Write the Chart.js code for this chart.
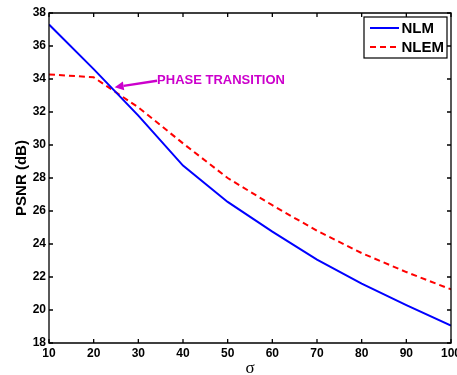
<!DOCTYPE html>
<html><head><meta charset="utf-8">
<script src="https://cdn.jsdelivr.net/npm/chart.js@4/dist/chart.umd.min.js"></script>
<style>html,body{margin:0;padding:0;background:#fff;}#wrap{width:457px;height:375px;}</style>
</head><body><div id="wrap"><canvas id="c" width="457" height="375"></canvas></div>
<script>
// ---- data ----
const sigma = [10, 20, 30, 40, 50, 60, 70, 80, 90, 100];
const nlm   = [37.3, 34.6, 31.78, 28.75, 26.55, 24.75, 23.05, 21.6, 20.3, 19.05];
const nlem  = [34.28, 34.1, 32.28, 30.1, 28.0, 26.35, 24.8, 23.45, 22.3, 21.25];
const seriesNames = ['NLM', 'NLEM'];
const xTicks = [10, 20, 30, 40, 50, 60, 70, 80, 90, 100];
const yTicks = [18, 20, 22, 24, 26, 28, 30, 32, 34, 36, 38];
const xTitle = 'σ';
const yTitle = 'PSNR (dB)';
const annotationText = 'PHASE TRANSITION';
const arrowTip = [24.7, 33.5];      // data coords of arrow head
const arrowTail = [34.2, 33.9];     // data coords where text starts

const FONT = "'Liberation Sans', Arial, Helvetica, sans-serif";
const MAGENTA = '#CC00CC';

const framePlugin = {
  id: 'frame',
  afterDatasetsDraw(chart) {
    const {ctx, chartArea: a, scales: {x, y}} = chart;
    ctx.save();
    ctx.strokeStyle = '#000';
    ctx.lineWidth = 1.3;
    ctx.beginPath();
    ctx.rect(a.left, a.top, a.right - a.left, a.bottom - a.top);
    ctx.stroke();
    const tl = 4;
    ctx.beginPath();
    xTicks.forEach(v => {
      const px = x.getPixelForValue(v);
      ctx.moveTo(px, a.bottom); ctx.lineTo(px, a.bottom - tl);
      ctx.moveTo(px, a.top); ctx.lineTo(px, a.top + tl);
    });
    yTicks.forEach(v => {
      const py = y.getPixelForValue(v);
      ctx.moveTo(a.left, py); ctx.lineTo(a.left + tl, py);
      ctx.moveTo(a.right, py); ctx.lineTo(a.right - tl, py);
    });
    ctx.stroke();
    ctx.restore();
  }
};

const annotationPlugin = {
  id: 'phaseAnno',
  afterDatasetsDraw(chart) {
    const {ctx, scales: {x, y}} = chart;
    const tx = x.getPixelForValue(arrowTip[0]), ty = y.getPixelForValue(arrowTip[1]);
    const sx = x.getPixelForValue(arrowTail[0]), sy = y.getPixelForValue(arrowTail[1]);
    ctx.save();
    ctx.strokeStyle = MAGENTA; ctx.fillStyle = MAGENTA;
    const ang = Math.atan2(ty - sy, tx - sx);
    const hl = 9, hw = 4.5;
    const bx = tx - hl * Math.cos(ang), by = ty - hl * Math.sin(ang);
    ctx.lineWidth = 2.5;
    ctx.beginPath(); ctx.moveTo(sx, sy); ctx.lineTo(bx, by); ctx.stroke();
    ctx.beginPath();
    ctx.moveTo(tx, ty);
    ctx.lineTo(bx + hw * Math.sin(ang), by - hw * Math.cos(ang));
    ctx.lineTo(bx - hw * Math.sin(ang), by + hw * Math.cos(ang));
    ctx.closePath(); ctx.fill();
    ctx.font = 'bold 13px ' + FONT;
    ctx.textAlign = 'left'; ctx.textBaseline = 'middle';
    ctx.fillText(annotationText, sx, sy);
    ctx.restore();
  }
};

const legendPlugin = {
  id: 'boxLegend',
  afterDraw(chart) {
    const {ctx, chartArea: a} = chart;
    const w = 83, h = 41;
    const left = a.right - 4 - w, top = a.top + 4;
    ctx.save();
    ctx.fillStyle = '#fff';
    ctx.fillRect(left, top, w, h);
    ctx.strokeStyle = '#000'; ctx.lineWidth = 1.2;
    ctx.strokeRect(left, top, w, h);
    chart.data.datasets.forEach((ds, i) => {
      const ry = top + 11 + i * 19;
      ctx.strokeStyle = ds.borderColor;
      ctx.lineWidth = 2;
      ctx.setLineDash(ds.borderDash || []);
      ctx.beginPath(); ctx.moveTo(left + 6, ry); ctx.lineTo(left + 35, ry); ctx.stroke();
      ctx.setLineDash([]);
      ctx.fillStyle = '#000';
      ctx.font = 'bold 15px ' + FONT;
      ctx.textAlign = 'left'; ctx.textBaseline = 'middle';
      ctx.fillText(ds.label, left + 37.5, ry + 1);
    });
    ctx.restore();
  }
};

new Chart(document.getElementById('c'), {
  type: 'line',
  data: {
    datasets: [
      { label: seriesNames[0], data: sigma.map((s, i) => ({x: s, y: nlm[i]})),
        borderColor: '#0000FF', borderWidth: 2, pointRadius: 0, tension: 0, fill: false },
      { label: seriesNames[1], data: sigma.map((s, i) => ({x: s, y: nlem[i]})),
        borderColor: '#FF0000', borderWidth: 2, borderDash: [6, 4], pointRadius: 0, tension: 0, fill: false }
    ]
  },
  options: {
    responsive: false,
    animation: false,
    devicePixelRatio: 1,
    layout: { padding: { left: 0, top: 13, right: 6, bottom: 0 } },
    plugins: { legend: { display: false }, tooltip: { enabled: false } },
    scales: {
      x: {
        type: 'linear', min: 10, max: 100,
        afterBuildTicks: s => { s.ticks = xTicks.map(v => ({value: v})); },
        afterFit: s => { s.height = 32; s.paddingLeft = 0; s.paddingRight = 0; },
        grid: { display: false, drawTicks: false },
        border: { display: false },
        ticks: { color: '#000', font: { family: FONT, size: 12, weight: 'bold' }, padding: 3, maxRotation: 0, autoSkip: false },
        title: { display: true, text: xTitle, color: '#000',
          font: { family: "'Liberation Serif', 'Times New Roman', serif", size: 17, lineHeight: 0.75 },
          padding: { top: 0, bottom: 0 } }
      },
      y: {
        type: 'linear', min: 18, max: 38,
        afterBuildTicks: s => { s.ticks = yTicks.map(v => ({value: v})); },
        afterFit: s => { s.width = 49; s.paddingTop = 0; s.paddingBottom = 0; },
        grid: { display: false, drawTicks: false },
        border: { display: false },
        ticks: { color: '#000', font: { family: FONT, size: 12, weight: 'bold' }, padding: 3, autoSkip: false },
        title: { display: true, text: yTitle, color: '#000',
          font: { family: FONT, size: 15, weight: 'bold' },
          padding: { top: 13, bottom: 0 } }
      }
    }
  },
  plugins: [framePlugin, annotationPlugin, legendPlugin]
});
</script>
</body></html>
